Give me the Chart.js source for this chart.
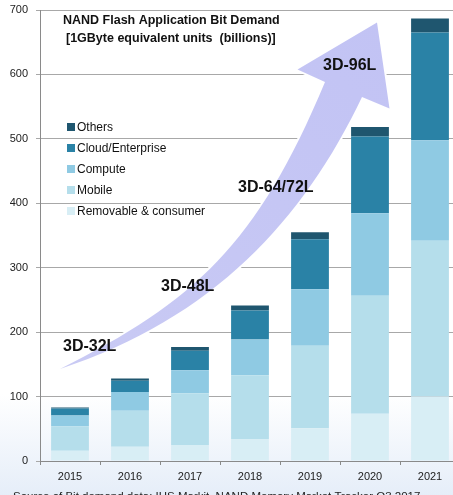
<!DOCTYPE html>
<html>
<head>
<meta charset="utf-8">
<script src="https://cdn.jsdelivr.net/npm/chart.js@4/dist/chart.umd.min.js"></script>
<style>
html,body{margin:0;padding:0;overflow:hidden;background:#fff;width:453px;height:495px;}
#wrap{position:absolute;left:0;top:0;width:460px;height:505px;}
</style>
</head>
<body>
<div id="wrap"><canvas id="c" width="460" height="505"></canvas></div>
<script>
const years = ['2015','2016','2017','2018','2019','2020','2021'];
const removable = [16, 22, 25, 34, 51, 73.5, 100];
const mobile    = [38, 56, 80, 99, 128, 183, 242];
const compute   = [16.5, 29, 36, 55.5, 87.5, 128, 156];
const cloud     = [11, 17.5, 30, 45, 77.5, 119, 167];
const others    = [1.5, 3.5, 6, 8, 11, 15, 22];
const yTicks = [0,100,200,300,400,500,600,700];
const titleLines = ['NAND Flash Application Bit Demand','[1GByte equivalent units  (billions)]'];
const nodeLabels = ['3D-32L','3D-48L','3D-64/72L','3D-96L'];
const sourceText = 'Source of Bit demand data: IHS Markit, NAND Memory Market Tracker Q3 2017';

const FONT = '"Liberation Sans", Arial, sans-serif';

const bgPlugin = {
  id:'bg',
  beforeDraw(chart){
    const ctx = chart.ctx, h = chart.height, w = chart.width;
    const g = ctx.createLinearGradient(0,0,0,h);
    g.addColorStop(0,'#ffffff');
    g.addColorStop(0.78,'#ffffff');
    g.addColorStop(1,'#e3ecf8');
    ctx.save(); ctx.fillStyle = g; ctx.fillRect(0,0,w,h); ctx.restore();
  }
};

const arrowPlugin = {
  id:'arrow',
  beforeDatasetsDraw(chart){
    const ctx = chart.ctx;
    ctx.save();
    ctx.beginPath();
    ctx.moveTo(60,369);
    ctx.bezierCurveTo(194,302, 257,245, 325,82);
    ctx.lineTo(297.5,69.5);
    ctx.lineTo(377,22.5);
    ctx.lineTo(389.5,108.5);
    ctx.lineTo(362,97);
    ctx.bezierCurveTo(303.6,219.6, 213.5,318.3, 60,369);
    ctx.closePath();
    ctx.lineJoin='round';
    ctx.strokeStyle='#ffffff';
    ctx.lineWidth=4;
    ctx.stroke();
    const g = ctx.createLinearGradient(60,369,377,22);
    g.addColorStop(0,'#c9caf4');
    g.addColorStop(1,'#c2c3f4');
    ctx.fillStyle=g;
    ctx.fill();
    ctx.restore();
  }
};

const textPlugin = {
  id:'texts',
  afterDatasetsDraw(chart){
    const ctx = chart.ctx;
    ctx.save();
    ctx.fillStyle='#111';
    ctx.textBaseline='middle';
    ctx.textAlign='left';
    ctx.font = 'bold 16px '+FONT;
    const pos = [[63,347],[161,287],[238,188],[323,66]];
    nodeLabels.forEach((t,i)=>ctx.fillText(t,pos[i][0],pos[i][1]));
    ctx.font = 'bold 12.5px '+FONT;
    ctx.fillText(titleLines[0],63,21);
    ctx.fillText(titleLines[1],66,39);
    ctx.font = '12px '+FONT;
    const ds = chart.data.datasets;
    let y = 127;
    for (let i = ds.length-1; i>=0; i--){
      ctx.fillStyle = ds[i].backgroundColor;
      ctx.fillRect(67,y-4,8,8);
      ctx.fillStyle='#111';
      ctx.fillText(ds[i].label,77,y+0.5);
      y += 21;
    }
    ctx.font = '11.5px '+FONT;
    ctx.textBaseline='alphabetic';
    ctx.fillStyle='#222';
    ctx.fillText(sourceText,13,500,424);
    ctx.restore();
  }
};

new Chart(document.getElementById('c'),{
  type:'bar',
  data:{
    labels: years,
    datasets:[
      {label:'Removable & consumer', data:removable, backgroundColor:'#d8eef5'},
      {label:'Mobile', data:mobile, backgroundColor:'#b5deeb'},
      {label:'Compute', data:compute, backgroundColor:'#8fcae3'},
      {label:'Cloud/Enterprise', data:cloud, backgroundColor:'#2a82a6'},
      {label:'Others', data:others, backgroundColor:'#1f566f'}
    ]
  },
  options:{
    responsive:false,
    animation:false,
    devicePixelRatio:1,
    layout:{padding:{top:10,right:0,left:0,bottom:0}},
    datasets:{bar:{categoryPercentage:1, barPercentage:0.63, borderWidth:0}},
    plugins:{legend:{display:false}, tooltip:{enabled:false}, title:{display:false}},
    scales:{
      x:{
        stacked:true,
        grid:{drawOnChartArea:false, drawTicks:true, tickLength:4, color:'#8a8a8a', offset:true},
        border:{display:true, color:'#8a8a8a', width:1},
        ticks:{font:{family:FONT,size:11}, color:'#222', padding:5},
        afterFit(s){ s.height = 44; s.paddingLeft = 0; s.paddingRight = 0; }
      },
      y:{
        stacked:true,
        min:0, max:700,
        afterBuildTicks(s){ s.ticks = yTicks.map(v=>({value:v})); },
        grid:{color:'#a8a8a8', lineWidth:1, tickLength:4},
        border:{display:true, color:'#8a8a8a', width:1},
        ticks:{font:{family:FONT,size:11}, color:'#222', padding:8},
        afterFit(s){ s.width = 40; s.paddingTop = 0; s.paddingBottom = 0; }
      }
    }
  },
  plugins:[bgPlugin, arrowPlugin, textPlugin]
});
</script>
</body>
</html>
